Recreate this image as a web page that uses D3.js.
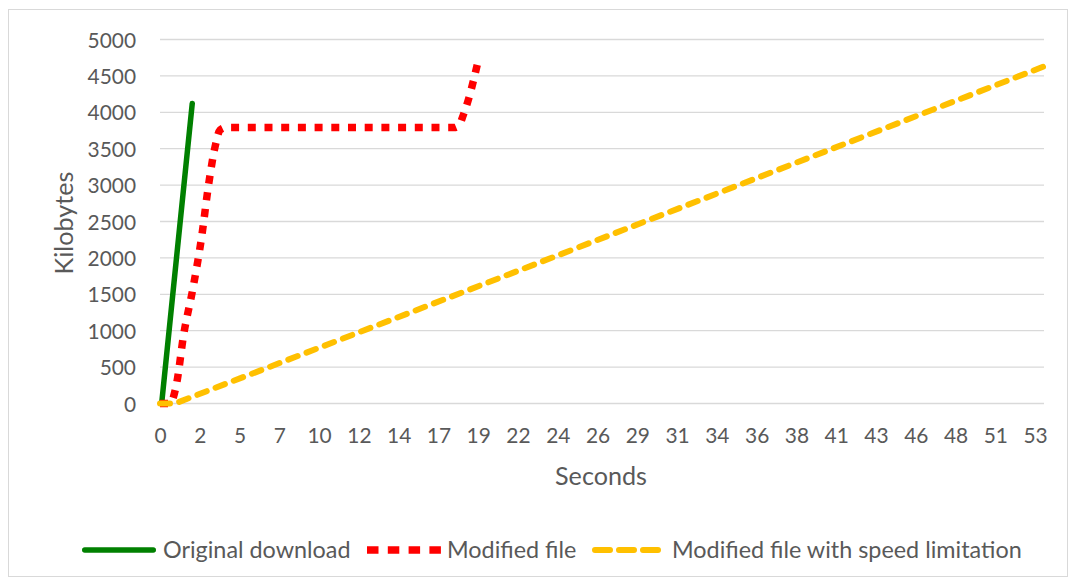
<!DOCTYPE html>
<html><head><meta charset="utf-8">
<script src="https://cdn.jsdelivr.net/npm/d3@7"></script>
<style>body{margin:0;background:#fff}svg{display:block}</style>
</head><body><svg id="c" width="1077" height="584"></svg>
<script>
// ---- data ----
const seriesNames = ["Original download", "Modified file", "Modified file with speed limitation"];
const originalTime = [0.1, 1.95];
const originalKB   = [0, 4120];
const modifiedTime = [0, 0.6, 1.01, 1.41, 2.01, 2.52, 2.92, 3.33, 3.63, 3.95, 17.8, 18.1, 18.34, 18.64, 19.18];
const modifiedKB   = [0, 0, 282, 917, 1604, 2291, 2978, 3527, 3757, 3790, 3790, 3830, 3963, 4169, 4650];
const limitedTime  = [0, 0.9, 21.77, 53.45];
const limitedKB    = [0, 0, 1833, 4630];
const xTickLabels  = ["0","2","5","7","10","12","14","17","19","22","24","26","29","31","34","36","38","41","43","46","48","51","53"];
const xTickStep    = 2.405; // seconds between labelled categories
const yTicks       = [0,500,1000,1500,2000,2500,3000,3500,4000,4500,5000];
const xMax = 53.45, yMax = 5000;
const xTitle = "Seconds", yTitle = "Kilobytes";

// ---- layout ----
const svg = d3.select("#c");
const FONT = "Lato, 'Open Sans', sans-serif";
const TXT = "#595959";
const pLeft = 160, pRight = 1044, pTop = 39.5, pBottom = 403.5;
const x = d3.scaleLinear().domain([0, xMax]).range([pLeft, pRight]);
const y = d3.scaleLinear().domain([0, yMax]).range([pBottom, pTop]);

function fit(str, target, base) {
  const t = svg.append("text").attr("font-family", FONT).attr("font-size", base).text(str);
  const w = t.node().getComputedTextLength();
  t.remove();
  return base * target / w;
}
const tickSize = fit("5000", 48.5, 20);
const titleSize = fit(xTitle, 92, 20);
const legendSize = fit(seriesNames[2], 350, 20);

svg.append("rect").attr("x", 8.5).attr("y", 9.5).attr("width", 1059).attr("height", 567)
  .attr("fill", "#fff").attr("stroke", "#D9D9D9").attr("stroke-width", 1);

// gridlines
svg.append("g").selectAll("line").data(yTicks).join("line")
  .attr("x1", pLeft).attr("x2", pRight)
  .attr("y1", d => y(d)).attr("y2", d => y(d))
  .attr("stroke", "#D9D9D9").attr("stroke-width", 1.3);

// y axis labels
const yAxis = d3.axisLeft(y).tickValues(yTicks).tickFormat(d3.format("d")).tickSize(0).tickPadding(0);
const gy = svg.append("g").attr("transform", `translate(${136},0)`).call(yAxis);
gy.select(".domain").remove();
gy.selectAll("text").attr("font-family", FONT).attr("font-size", tickSize).attr("fill", TXT).attr("dy", "0.36em");

// x axis labels
const xTickVals = xTickLabels.map((d, i) => i * xTickStep);
const xAxis = d3.axisBottom(x).tickValues(xTickVals).tickFormat((d, i) => xTickLabels[i]).tickSize(0).tickPadding(0);
const gx = svg.append("g").attr("transform", `translate(0,${435})`).call(xAxis);
gx.select(".domain").remove();
gx.selectAll("text").attr("font-family", FONT).attr("font-size", tickSize).attr("fill", TXT).attr("dy", "0.36em");

// titles
svg.append("text").attr("x", 601).attr("y", 485).attr("text-anchor", "middle")
  .attr("font-family", FONT).attr("font-size", titleSize).attr("fill", TXT).text(xTitle);
svg.append("text").attr("transform", "translate(73,223) rotate(-90)").attr("text-anchor", "middle")
  .attr("font-family", FONT).attr("font-size", titleSize).attr("fill", TXT).text(yTitle);

// series
const line = d3.line().x(d => x(d[0])).y(d => y(d[1]));
const smooth = d3.line().x(d => x(d[0])).y(d => y(d[1])).curve(d3.curveMonotoneX);
const styles = [
  {color: "#008000", width: 5.5, dash: null, cap: "round", gen: line, legendDash: null, lw: 74},
  {color: "#FF0000", width: 7.5, dash: "8 8.7", cap: "butt", gen: smooth, legendDash: "11.5 9.3", lw: 74},
  {color: "#FFC000", width: 6, dash: "10 9.5", cap: "round", gen: line, legendDash: "15 9", lw: 72}
];
const seriesData = [
  originalTime.map((t, i) => [t, originalKB[i]]),
  modifiedTime.map((t, i) => [t, modifiedKB[i]]),
  limitedTime.map((t, i) => [t, limitedKB[i]])
];
seriesData.forEach((d, i) => {
  const s = styles[i];
  svg.append("path").attr("d", s.gen(d)).attr("fill", "none")
    .attr("stroke", s.color).attr("stroke-width", s.width)
    .attr("stroke-linecap", s.cap).attr("stroke-linejoin", "round")
    .attr("stroke-dasharray", s.dash);
});

// legend
const legendX = [82, 367, 592];
const legendTextX = [163, 447, 672];
const legendY = 550;
seriesNames.forEach((name, i) => {
  const s = styles[i];
  const x0 = legendX[i];
  const x1 = x0 + s.lw;
  const off = s.cap === "round" ? s.width / 2 : 0;
  svg.append("line").attr("x1", x0 + off).attr("x2", x1 - off).attr("y1", legendY).attr("y2", legendY)
    .attr("stroke", s.color).attr("stroke-width", s.width).attr("stroke-linecap", s.cap)
    .attr("stroke-dasharray", s.legendDash);
  svg.append("text").attr("x", legendTextX[i]).attr("y", legendY).attr("dy", "0.36em")
    .attr("font-family", FONT).attr("font-size", legendSize).attr("fill", TXT).text(name);
});
</script></body></html>
